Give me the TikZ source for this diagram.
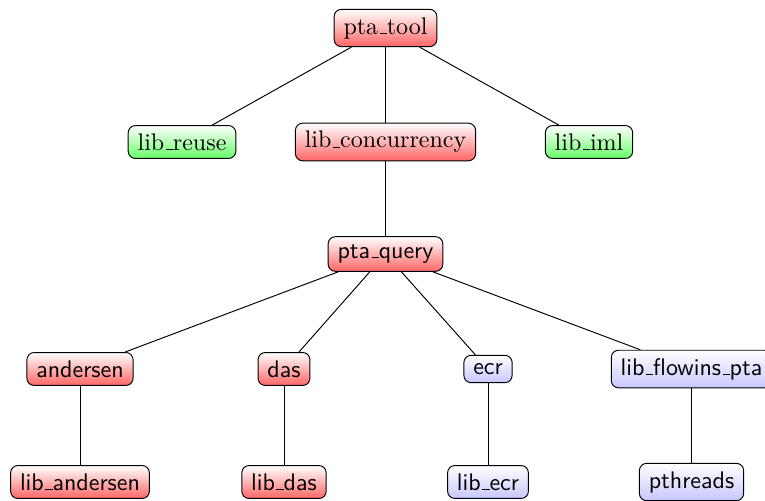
\documentclass[tikz,border=0pt]{standalone}
% short raised underscore rule, as the classic text underscore
\newcommand{\uscore}{\leavevmode\kern.06em\vbox{\hrule width.3em}}
\begin{document}
\begin{tikzpicture}[x=0.41667pt, y=-0.41667pt,
  box/.style={draw=black, rounded corners=3pt, inner xsep=3.9pt, inner ysep=3.33pt},
  redbox/.style={box, top color=white, bottom color=red!60},
  greenbox/.style={box, top color=white, bottom color=green!60},
  bluebox/.style={box, top color=white, bottom color=blue!22},
  sans/.style={font=\sffamily},
  link/.style={draw=black, line width=0.4pt}]
\useasboundingbox (0,0) rectangle (765,500);

% first two levels (serif labels)
\node[redbox]   (tool)  at (385.5,28)  {pta\uscore tool};
\node[greenbox] (reuse) at (182,142)   {lib\uscore reuse};
\node[redbox]   (conc)  at (385.5,142) {lib\uscore concurrency};
\node[greenbox] (iml)   at (589,142)   {lib\uscore iml};

% query level and below (sans labels)
\node[redbox, sans]  (query)    at (385.5,254) {pta\uscore query};
\node[redbox, sans]  (andersen) at (80,369)    {andersen};
\node[redbox, sans]  (das)      at (284,369)   {das};
\node[bluebox, sans] (ecr)      at (488,369)   {ecr};
\node[bluebox, sans] (flowins)  at (691.5,369) {lib\uscore flowins\uscore pta};
\node[redbox, sans]  (libande)  at (80,482)    {lib\uscore andersen};
\node[redbox, sans]  (libdas)   at (284,482)   {lib\uscore das};
\node[bluebox, sans] (libecr)   at (488,482)   {lib\uscore ecr};
\node[bluebox, sans] (pthreads) at (691.5,482) {pthreads};

% tree edges
\draw[link] (tool) -- (reuse);
\draw[link] (tool) -- (conc);
\draw[link] (tool) -- (iml);
\draw[link] (conc) -- (query);
\draw[link] (query) -- (andersen);
\draw[link] (query) -- (das);
\draw[link] (query) -- (ecr);
\draw[link] (query) -- (flowins);
\draw[link] (andersen) -- (libande);
\draw[link] (das) -- (libdas);
\draw[link] (ecr) -- (libecr);
\draw[link] (flowins) -- (pthreads);
\end{tikzpicture}
\end{document}
